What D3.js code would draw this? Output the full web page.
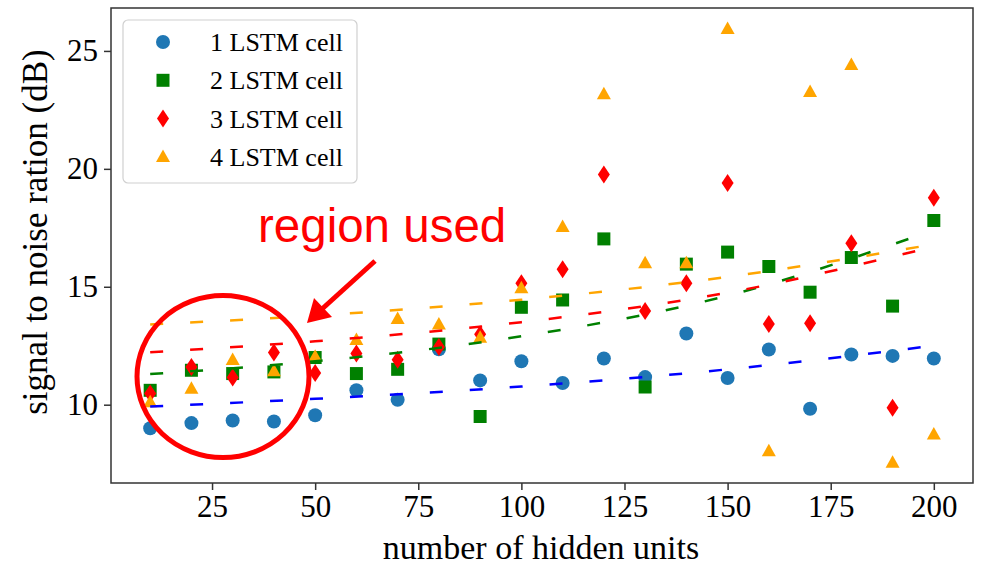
<!DOCTYPE html>
<html>
<head>
<meta charset="utf-8">
<script src="https://cdn.jsdelivr.net/npm/d3@7"></script>
<style>
  body { margin: 0; background: #fff; }
  .vis { width: 987px; height: 566px; }
  text { font-family: "Liberation Serif", "Times New Roman", serif; fill: #000; }
</style>
</head>
<body>
<div class="vis"></div>
<script>
// values
var hiddenUnits = [10, 20, 30, 40, 50, 60, 70, 80, 90, 100, 110, 120, 130, 140, 150, 160, 170, 180, 190, 200];
var cell1 = [9.0, 9.22, 9.33, 9.29, 9.55, 10.61, 10.21, 12.35, 11.03, 11.84, 10.92, 11.96, 11.17, 13.02, 11.13, 12.34, 9.83, 12.13, 12.07, 11.96];
var cell2 = [10.61, 11.46, 11.32, 11.39, 12.0, 11.32, 11.5, 12.57, 9.5, 14.13, 14.44, 17.03, 10.75, 15.96, 16.47, 15.86, 14.77, 16.24, 14.18, 17.81];
var cell3 = [10.47, 11.6, 11.15, 12.21, 11.34, 12.17, 11.91, 12.45, 12.99, 15.15, 15.74, 19.76, 13.97, 15.15, 19.4, 13.42, 13.45, 16.85, 9.87, 18.77];
var cell4 = [10.1, 10.68, 11.89, 11.42, 12.03, 12.74, 13.63, 13.4, 12.84, 14.94, 17.53, 23.16, 16.0, 16.0, 25.93, 8.03, 23.26, 24.4, 7.54, 8.74];
// dashed trend curves, read at a few x positions
var trendX = [10, 50, 100, 150, 200];
var trend1 = [9.92, 10.25, 10.77, 11.5, 12.5];
var trend2 = [11.3, 11.84, 12.9, 14.62, 17.4];
var trend3 = [12.22, 12.69, 13.5, 14.75, 16.7];
var trend4 = [13.4, 13.78, 14.45, 15.42, 16.8];
var seriesNames = ['1 LSTM cell', '2 LSTM cell', '3 LSTM cell', '4 LSTM cell'];
var xTicks = [25, 50, 75, 100, 125, 150, 175, 200];
var yTicks = [10, 15, 20, 25];

(function() {
  'use strict';

  var elWidth = 987, elHeight = 566,
    margin = {top: 8, right: 14, bottom: 83, left: 111},
    width = elWidth - margin.left - margin.right,
    height = elHeight - margin.top - margin.bottom;

  var svg = d3.select('.vis').append('svg')
      .attr('width', elWidth)
      .attr('height', elHeight);

  var g = svg.append('g')
      .attr('transform', 'translate(' + margin.left + ',' + margin.top + ')');

  var x = d3.scaleLinear().domain([0.5, 209.5]).range([0, width]);
  var y = d3.scaleLinear().domain([6.68, 26.82]).range([height, 0]);

  var series = [
    {name: seriesNames[0], values: cell1, trend: trend1, color: '#1f77b4', line: 'blue', shape: 'circle'},
    {name: seriesNames[1], values: cell2, trend: trend2, color: 'green', line: 'green', shape: 'square'},
    {name: seriesNames[2], values: cell3, trend: trend3, color: 'red', line: 'red', shape: 'diamond'},
    {name: seriesNames[3], values: cell4, trend: trend4, color: 'orange', line: 'orange', shape: 'triangle'}
  ];

  function markerPath(shape) {
    if (shape === 'circle') return d3.symbol().type(d3.symbolCircle).size(Math.PI * 7 * 7)();
    if (shape === 'square') return 'M-6.5,-6.5H6.5V6.5H-6.5Z';
    if (shape === 'diamond') return 'M0,-9L6,0L0,9L-6,0Z';
    return 'M0,-7.5L7,5L-7,5Z';
  }

  // scatter
  series.forEach(function(s) {
    g.selectAll('.pt-' + s.shape)
      .data(s.values)
      .enter()
      .append('path')
        .attr('class', 'pt-' + s.shape)
        .attr('d', markerPath(s.shape))
        .attr('fill', s.color)
        .attr('transform', function(d, i) {
          return 'translate(' + x(hiddenUnits[i]) + ',' + y(d) + ')';
        });
  });

  // dashed trend curves
  var line = d3.line()
      .x(function(d, i) { return x(trendX[i]); })
      .y(function(d) { return y(d); })
      .curve(d3.curveMonotoneX);

  series.forEach(function(s) {
    g.append('path')
      .attr('d', line(s.trend))
      .attr('fill', 'none')
      .attr('stroke', s.line)
      .attr('stroke-width', 2.5)
      .attr('stroke-dasharray', '13,27');
  });

  // axes
  var xAxis = g.append('g')
      .attr('transform', 'translate(0,' + height + ')')
      .call(d3.axisBottom(x).tickValues(xTicks).tickSize(7).tickPadding(5));
  var yAxis = g.append('g')
      .call(d3.axisLeft(y).tickValues(yTicks).tickSize(7).tickPadding(6));

  [xAxis, yAxis].forEach(function(ax) {
    ax.select('.domain').remove();
    ax.selectAll('line').attr('stroke', '#333').attr('stroke-width', 1.5);
    ax.selectAll('text').attr('font-size', 31).attr('font-family', '"Liberation Serif", serif');
  });

  g.append('rect')
    .attr('width', width)
    .attr('height', height)
    .attr('fill', 'none')
    .attr('stroke', '#333')
    .attr('stroke-width', 1.5);

  svg.append('text')
    .attr('x', 541)
    .attr('y', 559)
    .attr('text-anchor', 'middle')
    .attr('font-size', 34)
    .text('number of hidden units');

  svg.append('text')
    .attr('transform', 'translate(47,232) rotate(-90)')
    .attr('text-anchor', 'middle')
    .attr('font-size', 35)
    .text('signal to noise ration (dB)');

  // legend
  var legend = svg.append('g').attr('transform', 'translate(123,20)');
  legend.append('rect')
    .attr('width', 234)
    .attr('height', 163)
    .attr('rx', 5)
    .attr('fill', 'white')
    .attr('fill-opacity', 0.8)
    .attr('stroke', '#d0d0d0')
    .attr('stroke-width', 1.2);

  var item = legend.selectAll('.item')
      .data(series)
      .enter()
      .append('g')
        .attr('class', 'item')
        .attr('transform', function(d, i) { return 'translate(0,' + (22 + i * 38.3) + ')'; });
  item.append('path')
    .attr('d', function(d) { return markerPath(d.shape); })
    .attr('fill', function(d) { return d.color; })
    .attr('transform', 'translate(40,0)');
  item.append('text')
    .attr('x', 87)
    .attr('y', 9)
    .attr('font-size', 26)
    .text(function(d) { return d.name; });

  // annotation
  var note = svg.append('g');
  note.append('ellipse')
    .attr('cx', 223)
    .attr('cy', 376.5)
    .attr('rx', 86)
    .attr('ry', 81)
    .attr('fill', 'none')
    .attr('stroke', 'red')
    .attr('stroke-width', 5);
  note.append('line')
    .attr('x1', 375).attr('y1', 261)
    .attr('x2', 322).attr('y2', 309)
    .attr('stroke', 'red')
    .attr('stroke-width', 5);
  note.append('path')
    .attr('d', 'M307,323L314,298L332,317Z')
    .attr('fill', 'red');
  note.append('text')
    .attr('x', 258)
    .attr('y', 242)
    .attr('font-size', 47.5)
    .style('font-family', '"Liberation Sans", Arial, sans-serif')
    .style('fill', 'red')
    .text('region used');
}());
</script>
</body>
</html>
